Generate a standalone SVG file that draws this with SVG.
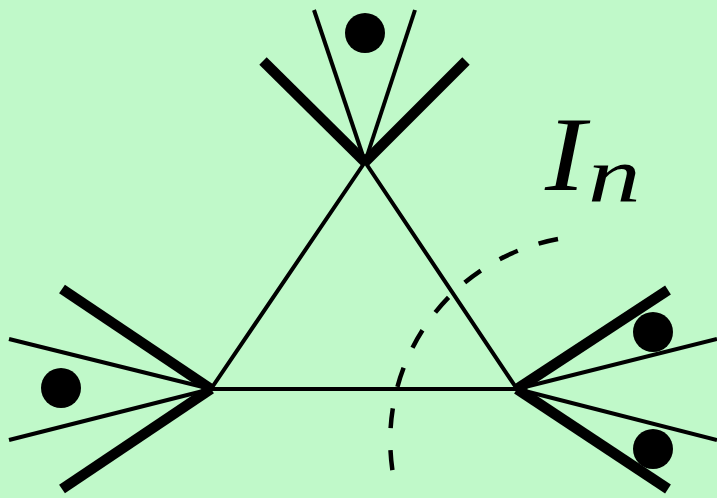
<svg xmlns="http://www.w3.org/2000/svg" width="717" height="498" viewBox="0 0 717 498">
<style>
.thick{stroke:#000;stroke-width:10.5;stroke-linecap:butt;fill:none}
.thin{stroke:#000;stroke-width:4;stroke-linecap:butt;fill:none}
.edge{stroke:#000;stroke-width:4;stroke-linecap:round;fill:none}
.dot{fill:#000}
.dash{stroke:#000;stroke-width:4.5;fill:none;stroke-dasharray:20 22}
.lbl{font-family:"Liberation Serif",serif;font-style:italic;fill:#000}
</style>
<rect width="717" height="498" fill="#c0f9c9"/>
<g id="connectors">
<path class="edge" d="M365 162 L211 389 L517 389 Z"/>
<path class="dash" d="M558 239 A205 205 0 0 0 393 474"/>
</g>
<g id="top">
<line class="thick" x1="365" y1="162" x2="263" y2="61"/>
<line class="thick" x1="365" y1="162" x2="466" y2="61"/>
<line class="thin" x1="365" y1="162" x2="314" y2="10"/>
<line class="thin" x1="365" y1="162" x2="415" y2="10"/>
<circle class="dot" cx="365" cy="33" r="20"/>
</g>
<g id="left">
<line class="thick" x1="211" y1="389" x2="62" y2="289"/>
<line class="thick" x1="211" y1="389" x2="62" y2="489"/>
<line class="thin" x1="211" y1="389" x2="9" y2="339"/>
<line class="thin" x1="211" y1="389" x2="9" y2="440"/>
<circle class="dot" cx="61" cy="388" r="20"/>
</g>
<g id="right">
<line class="thick" x1="517" y1="389" x2="668" y2="290"/>
<line class="thick" x1="517" y1="389" x2="668" y2="489"/>
<line class="thin" x1="517" y1="389" x2="717" y2="339"/>
<line class="thin" x1="517" y1="389" x2="717" y2="440"/>
<circle class="dot" cx="653" cy="332" r="20"/>
<circle class="dot" cx="653" cy="449" r="20"/>
</g>
<g id="label">
<text class="lbl" font-size="106" transform="translate(545,190) scale(1.15,1)">I</text>
<text class="lbl" font-size="78" transform="translate(588,202) scale(1.35,1)">n</text>
</g>
</svg>
